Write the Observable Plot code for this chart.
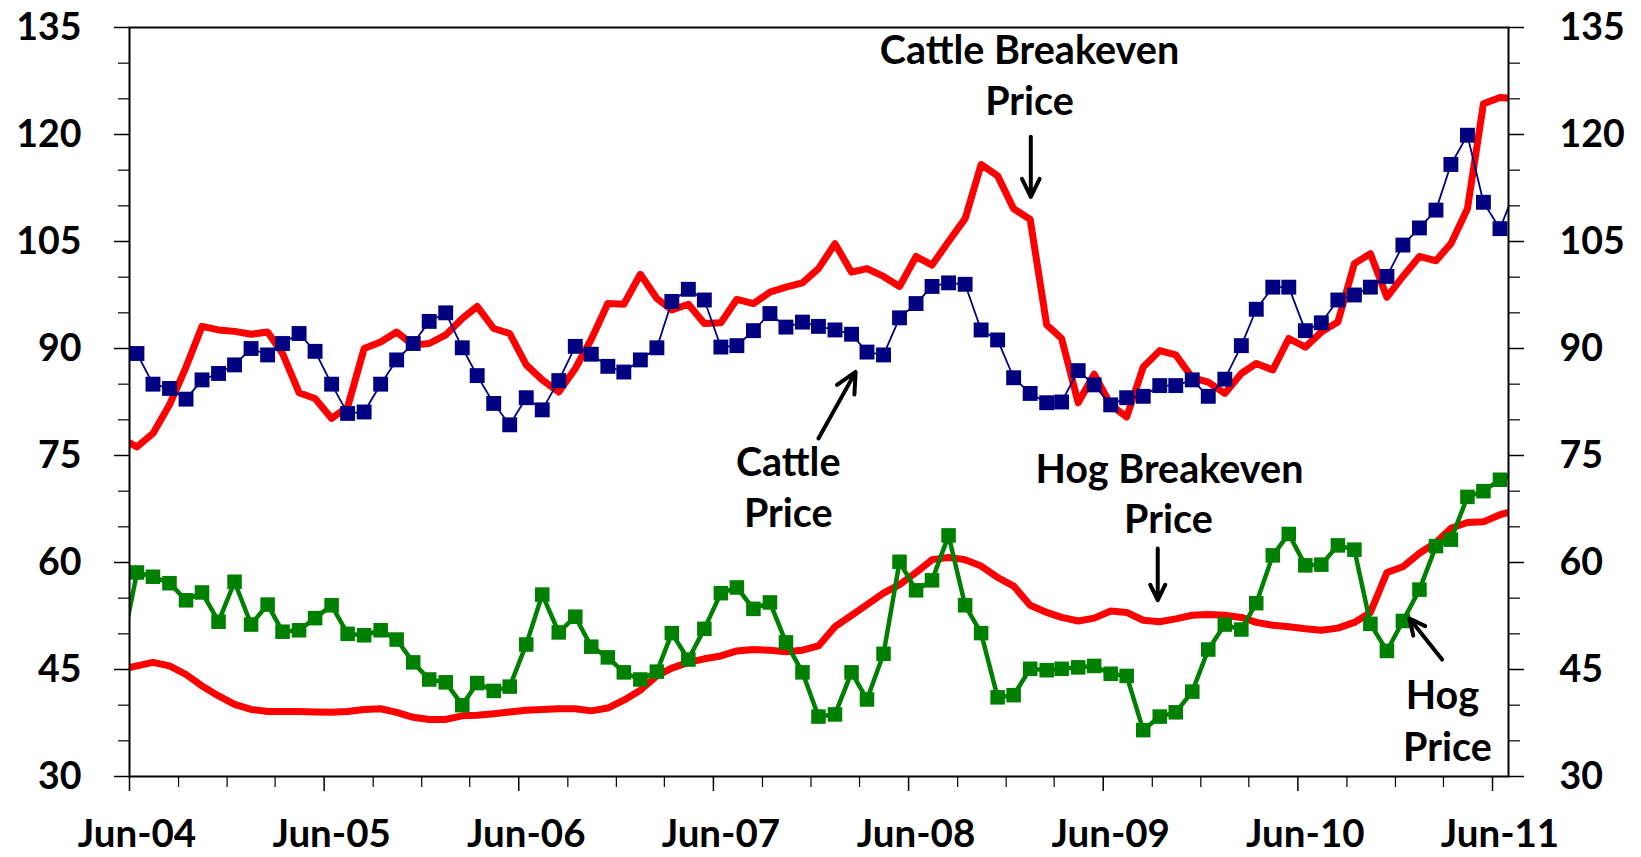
<!DOCTYPE html>
<html>
<head>
<meta charset="utf-8">
<script src="https://cdn.jsdelivr.net/npm/d3@7"></script>
<script src="https://cdn.jsdelivr.net/npm/@observablehq/plot@0.6"></script>
<style>
html, body { margin: 0; padding: 0; background: #fff; }
#chart svg { display: block; }
</style>
</head>
<body>
<div id="chart"></div>
<script>
// Monthly observations, May-2004 .. Jul-2011 (first and last fall outside the frame and are clipped)
const firstMonth = { year: 2004, month: 4 }; // May (0-based month)

const cattleBreakeven = [77.5,
  76.2, 78.1, 82.1, 87.4, 93.1, 92.6, 92.4, 92.0, 92.3, 89.3,
  83.8, 83.0, 80.2, 81.8, 90.0, 90.9, 92.3, 90.5, 90.7, 91.9,
  94.2, 95.9, 92.8, 92.1, 87.7, 85.6, 83.9, 87.2, 91.3, 96.3,
  96.2, 100.4, 97.0, 95.4, 96.2, 93.5, 93.6, 96.9, 96.3, 97.9,
  98.6, 99.2, 101.2, 104.7, 100.7, 101.2, 100.1, 98.7, 102.9, 101.7,
  105.0, 108.2, 115.8, 114.2, 109.6, 108.1, 93.3, 91.4, 82.4, 86.4,
  82.1, 80.4, 87.4, 89.7, 89.1, 85.9, 85.3, 83.7, 86.5, 87.9,
  87.0, 91.4, 90.2, 92.3, 93.7, 101.9, 103.3, 97.2, 100.1, 102.9,
  102.3, 104.7, 109.6, 124.3, 125.2, 125.0];

const cattlePrice = [null,
  89.3, 85.0, 84.4, 82.9, 85.6, 86.5, 87.7, 90.0, 89.1, 90.7,
  92.1, 89.6, 85.0, 80.9, 81.1, 85.0, 88.4, 90.7, 93.8, 95.0,
  90.1, 86.2, 82.3, 79.3, 83.1, 81.4, 85.5, 90.3, 89.2, 87.5,
  86.7, 88.4, 90.1, 96.6, 98.3, 96.8, 90.2, 90.4, 92.5, 94.9,
  93.0, 93.7, 93.1, 92.6, 92.0, 89.5, 89.1, 94.3, 96.3, 98.7,
  99.2, 99.0, 92.6, 91.2, 85.9, 83.7, 82.4, 82.5, 86.9, 84.9,
  82.1, 83.1, 83.3, 84.8, 84.8, 85.6, 83.3, 85.7, 90.4, 95.5,
  98.6, 98.6, 92.5, 93.6, 96.8, 97.5, 98.6, 100.1, 104.5, 106.9,
  109.4, 115.8, 119.9, 110.5, 106.8, 112.5];

const hogBreakeven = [45.0,
  45.5, 46.0, 45.5, 44.3, 42.7, 41.3, 40.1, 39.4, 39.1, 39.1,
  39.1, 39.05, 39.0, 39.1, 39.4, 39.5, 39.0, 38.3, 38.0, 38.0,
  38.5, 38.6, 38.8, 39.05, 39.3, 39.4, 39.5, 39.5, 39.2, 39.6,
  40.7, 42.1, 44.1, 45.2, 46.0, 46.5, 46.9, 47.6, 47.8, 47.7,
  47.5, 47.7, 48.3, 51.0, 52.6, 54.1, 55.7, 56.9, 58.6, 60.4,
  60.7, 60.4, 59.5, 57.9, 56.7, 54.0, 53.0, 52.3, 51.8, 52.2,
  53.2, 53.0, 51.9, 51.7, 52.1, 52.6, 52.7, 52.6, 52.3, 51.6,
  51.2, 51.0, 50.7, 50.5, 50.8, 51.6, 53.0, 58.6, 59.4, 61.3,
  62.8, 64.8, 65.6, 65.7, 66.7, 67.3];

const hogPrice = [47.0,
  58.6, 58.0, 57.1, 54.7, 55.8, 51.7, 57.3, 51.3, 54.1, 50.3,
  50.5, 52.2, 54.0, 50.0, 49.8, 50.5, 49.2, 46.0, 43.6, 43.2,
  40.0, 43.1, 42.0, 42.6, 48.5, 55.5, 50.2, 52.4, 48.2, 46.7,
  44.6, 43.6, 44.7, 50.1, 46.4, 50.7, 55.7, 56.5, 53.5, 54.4,
  48.8, 44.6, 38.4, 38.7, 44.6, 40.8, 47.2, 60.1, 56.1, 57.5,
  63.8, 54.0, 50.1, 41.1, 41.4, 45.1, 44.9, 45.1, 45.3, 45.5,
  44.4, 44.1, 36.5, 38.4, 39.0, 41.9, 47.8, 51.3, 50.6, 54.3,
  61.0, 64.0, 59.6, 59.7, 62.4, 61.8, 51.4, 47.6, 51.8, 56.2,
  62.3, 63.2, 69.2, 70.0, 71.6, 72.5];

const yMajorTicks = [30, 45, 60, 75, 90, 105, 120, 135];
const yMinorTicks = [35, 40, 50, 55, 65, 70, 80, 85, 95, 100, 110, 115, 125, 130];
const xLabelYears = [2004, 2005, 2006, 2007, 2008, 2009, 2010, 2011];

// Annotation anchors: m = months after 1 Jun 2004 (fractional), v = value on the y scale
const annotationLines = [
  { text: "Cattle Breakeven", m: 55.41, v: 131.7 },
  { text: "Price", m: 55.41, v: 124.46 },
  { text: "Cattle", m: 40.59, v: 73.89 },
  { text: "Price", m: 40.59, v: 66.74 },
  { text: "Hog Breakeven", m: 64.07, v: 72.95 },
  { text: "Price", m: 64.01, v: 65.94 },
  { text: "Hog", m: 80.93, v: 41.22 },
  { text: "Price", m: 81.24, v: 33.93 }
];
const annotationArrows = [
  { m1: 55.49, v1: 119.7, m2: 55.49, v2: 111.25 },
  { m1: 42.45, v1: 77.38, m2: 44.75, v2: 86.72 },
  { m1: 63.34, v1: 61.96, m2: 63.34, v2: 54.71 },
  { m1: 80.91, v1: 46.40, m2: 78.85, v2: 52.14 }
];

// ---- build tables ----
const monthDate = (k) => new Date(Date.UTC(firstMonth.year, firstMonth.month + k, 15));
const toRows = (arr) => arr.map((v, k) => ({ date: monthDate(k), value: v }));
const rowsCattleBE = toRows(cattleBreakeven);
const rowsCattle = toRows(cattlePrice).filter(d => d.value != null);
const rowsHogBE = toRows(hogBreakeven);
const rowsHog = toRows(hogPrice);

function monthToDate(m) {
  const k = Math.floor(m);
  const a = Date.UTC(2004, 5 + k, 1), b = Date.UTC(2004, 6 + k, 1);
  return new Date(a + (m - k) * (b - a));
}

const xStart = new Date(Date.UTC(2004, 5, 1));
const xEnd = new Date(Date.UTC(2011, 6, 1));
const quarterTicks = d3.utcMonth.range(xStart, xEnd, 3);
const majorXTicks = quarterTicks.filter(d => d.getUTCMonth() === 5);
const minorXTicks = quarterTicks.filter(d => d.getUTCMonth() !== 5);
const labelDates = xLabelYears.map(y => new Date(Date.UTC(y, 5, 15)));
const fmtLabel = d => "Jun-" + String(d.getUTCFullYear() % 100).padStart(2, "0");

const FONT = "Lato, 'DejaVu Sans', sans-serif";
const FS = 37.5;
const FS_X = 38.5;
const FS_TEXT = 39.5;

const chart = Plot.plot({
  width: 1641,
  height: 857,
  marginLeft: 129,
  marginRight: 133,
  marginTop: 27,
  marginBottom: 81,
  style: { fontFamily: FONT, background: "white" },
  x: { type: "utc", domain: [xStart, xEnd], label: null, axis: null },
  y: { domain: [30, 135], label: null, axis: null },
  marks: [
    Plot.line(rowsCattleBE, { x: "date", y: "value", stroke: "#ff0000", strokeWidth: 7, strokeLinejoin: "round", clip: true }),
    Plot.line(rowsHogBE, { x: "date", y: "value", stroke: "#ff0000", strokeWidth: 7, strokeLinejoin: "round", clip: true }),
    Plot.line(rowsCattle, { x: "date", y: "value", stroke: "#000080", strokeWidth: 1.8, clip: true }),
    Plot.dot(rowsCattle, { x: "date", y: "value", symbol: "square", r: 8.4, fill: "#000080", stroke: "none", clip: true }),
    Plot.line(rowsHog, { x: "date", y: "value", stroke: "#008000", strokeWidth: 4.5, clip: true }),
    Plot.dot(rowsHog, { x: "date", y: "value", symbol: "square", r: 8.2, fill: "#008000", stroke: "none", clip: true }),

    // y axes (left and right)
    Plot.axisY({ anchor: "left", ticks: yMajorTicks, tickSize: 15, tickPadding: 33, tickFormat: d => d, fontSize: FS, fontWeight: "bold", fill: "black", stroke: "black", strokeWidth: 1.5, label: null }),
    Plot.axisY({ anchor: "left", ticks: yMinorTicks, tickSize: 11, tickFormat: () => "", stroke: "black", strokeWidth: 1.2, label: null }),
    Plot.axisY({ anchor: "right", ticks: yMajorTicks, tickSize: 15, tickPadding: 36, tickFormat: d => d, fontSize: FS, fontWeight: "bold", fill: "black", stroke: "black", strokeWidth: 1.5, label: null }),
    Plot.axisY({ anchor: "right", ticks: yMinorTicks, tickSize: 11, tickFormat: () => "", stroke: "black", strokeWidth: 1.2, label: null }),

    // x axis
    Plot.axisX({ anchor: "bottom", ticks: majorXTicks, tickSize: 15, tickFormat: () => "", stroke: "black", strokeWidth: 1.5, label: null }),
    Plot.axisX({ anchor: "bottom", ticks: minorXTicks, tickSize: 11, tickFormat: () => "", stroke: "black", strokeWidth: 1.2, label: null }),
    Plot.axisX({ anchor: "bottom", ticks: labelDates, tickSize: 0, tickPadding: 43, tickFormat: fmtLabel, fontSize: FS_X, fontWeight: "bold", fill: "black", label: null }),

    Plot.frame({ stroke: "black", strokeWidth: 2 }),

    // annotations
    Plot.text(annotationLines, { x: d => monthToDate(d.m), y: "v", text: "text", fontSize: FS_TEXT, fontWeight: "bold", fill: "black", textAnchor: "middle" }),
    Plot.arrow(annotationArrows, { x1: d => monthToDate(d.m1), y1: "v1", x2: d => monthToDate(d.m2), y2: "v2", stroke: "black", strokeWidth: 4, headLength: 8.5, headAngle: 52 })
  ]
});

document.getElementById("chart").appendChild(chart);
</script>
</body>
</html>
